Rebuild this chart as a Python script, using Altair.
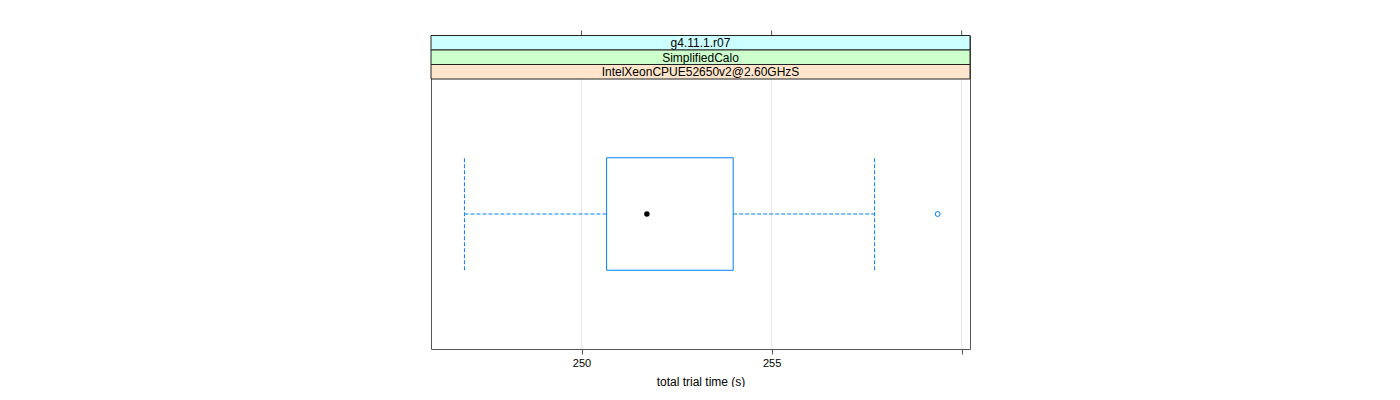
import altair as alt
import pandas as pd

# ---- data ----
strip_labels = ["g4.11.1.r07", "SimplifiedCalo", "IntelXeonCPUE52650v2@2.60GHzS"]
strip_fills = ["#CCFFFF", "#CCFFCC", "#FFE5CC"]

x_domain = [246.04, 260.22]
tick_values = [250, 255, 260]

whisker_low = 246.92
q1 = 250.66
median = 251.72
q3 = 253.99
whisker_high = 257.71
outliers = [259.37]

category_pos = 1.0
box_half = 0.25
y_domain = [0.4, 1.6]

# ---- layout / style ----
FONT = "Liberation Sans"
BLUE = "#0080ff"
W = 539
STRIP_H = 14.5
N_STRIPS = len(strip_labels)
STRIPS_TOTAL = STRIP_H * N_STRIPS
PANEL_H = 270
H = STRIPS_TOTAL + PANEL_H

xscale = alt.Scale(domain=x_domain, nice=False, zero=False)
yscale = alt.Scale(domain=y_domain, nice=False, zero=False, range=[H, STRIPS_TOTAL])

one = pd.DataFrame({"x": [(x_domain[0] + x_domain[1]) / 2], "y": [category_pos]})

layers = []

# bottom axis (carrier layer)
xaxis_bottom = alt.Axis(orient="bottom", values=tick_values, grid=False,
                        labelExpr="datum.value == 260 ? '' : datum.label",
                        domain=False, ticks=True, tickSize=5, tickColor="#555",
                        labelFont=FONT, labelFontSize=11, labelColor="black", labelPadding=3,
                        title="total trial time (s)", titleFont=FONT, titleFontSize=12,
                        titleFontWeight="normal", titleColor="black", titlePadding=8)
carrier = alt.Chart(one).mark_point(opacity=0).encode(
    x=alt.X("x:Q", scale=xscale, axis=xaxis_bottom),
    y=alt.Y("y:Q", scale=yscale, axis=None),
)
layers.append(carrier)

# gridlines inside the panel only, and top tick marks above the strips
grid_df = pd.DataFrame({"t": tick_values})
layers.append(alt.Chart(grid_df).mark_rule(color="#E6E6E6", strokeWidth=1).encode(
    x="t:Q", y=alt.value(STRIPS_TOTAL), y2=alt.value(H)))
layers.append(alt.Chart(grid_df).mark_rule(color="#555", strokeWidth=1).encode(
    x="t:Q", y=alt.value(-5), y2=alt.value(0)))

# strips
for i, (lab, fill) in enumerate(zip(strip_labels, strip_fills)):
    y0 = i * STRIP_H
    y1 = y0 + STRIP_H
    sdf = pd.DataFrame({"label": [lab]})
    layers.append(alt.Chart(sdf).mark_rect(fill=fill, stroke="#222", strokeWidth=1).encode(
        x=alt.value(0), x2=alt.value(W), y=alt.value(y0), y2=alt.value(y1)))
    layers.append(alt.Chart(sdf).mark_text(font=FONT, fontSize=12, color="black", baseline="middle").encode(
        x=alt.value(W / 2), y=alt.value((y0 + y1) / 2 + 0.5), text="label:N"))

# ---- box plot ----
box_df = pd.DataFrame({"q1": [q1], "q3": [q3], "lo": [category_pos - box_half],
                       "hi": [category_pos + box_half]})
whisk_df = pd.DataFrame({"a": [whisker_low, q3], "b": [q1, whisker_high],
                         "y": [category_pos, category_pos]})
cap_df = pd.DataFrame({"x": [whisker_low, whisker_high],
                       "lo": [category_pos - box_half] * 2, "hi": [category_pos + box_half] * 2})
med_df = pd.DataFrame({"x": [median], "y": [category_pos]})
out_df = pd.DataFrame({"x": outliers, "y": [category_pos] * len(outliers)})

layers.append(alt.Chart(whisk_df).mark_rule(color=BLUE, strokeDash=[4, 2], strokeWidth=1).encode(
    x="a:Q", x2="b:Q", y="y:Q"))
layers.append(alt.Chart(cap_df).mark_rule(color=BLUE, strokeDash=[4, 2], strokeWidth=1).encode(
    x="x:Q", y="lo:Q", y2="hi:Q"))
layers.append(alt.Chart(box_df).mark_rect(fill="white", stroke=BLUE, strokeWidth=1).encode(
    x="q1:Q", x2="q3:Q", y="lo:Q", y2="hi:Q"))
layers.append(alt.Chart(med_df).mark_point(filled=True, color="black", size=30, opacity=1).encode(
    x="x:Q", y="y:Q"))
layers.append(alt.Chart(out_df).mark_point(filled=False, color=BLUE, size=24, strokeWidth=1, opacity=1).encode(
    x="x:Q", y="y:Q"))

chart = alt.layer(*layers).properties(
    width=W, height=H,
    padding={"left": 430, "top": 29.5, "right": 0, "bottom": 0},
    background="white",
).configure_view(stroke="#555", strokeWidth=1)

chart.save("out.html", embed_options={"renderer": "svg", "actions": False})
